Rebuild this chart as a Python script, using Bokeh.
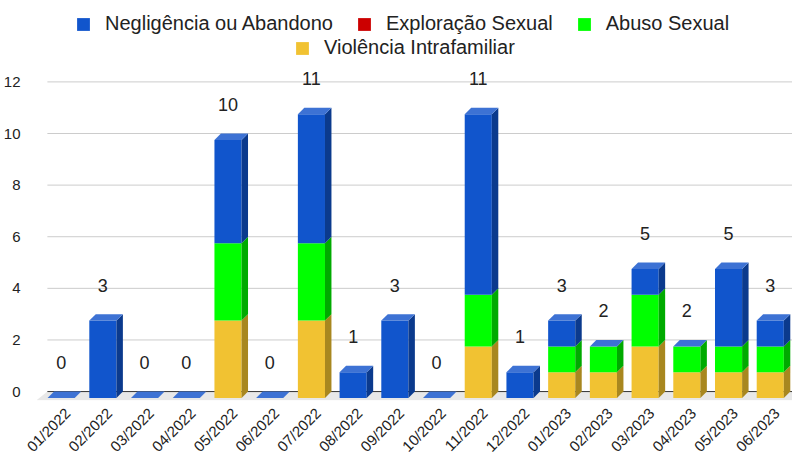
import numpy as np
from bokeh.plotting import figure
from bokeh.models import Range1d, FixedTicker, Legend, LegendItem, ColumnDataSource
from bokeh.core.properties import value
from bokeh.embed import file_html
from bokeh.resources import INLINE

months = ["01/2022", "02/2022", "03/2022", "04/2022", "05/2022", "06/2022",
          "07/2022", "08/2022", "09/2022", "10/2022", "11/2022", "12/2022",
          "01/2023", "02/2023", "03/2023", "04/2023", "05/2023", "06/2023"]
negligencia = [0, 3, 0, 0, 4, 0, 5, 1, 3, 0, 7, 1, 1, 0, 1, 0, 3, 1]
exploracao = [0, 0, 0, 0, 0, 0, 0, 0, 0, 0, 0, 0, 0, 0, 0, 0, 0, 0]
abuso = [0, 0, 0, 0, 3, 0, 3, 0, 0, 0, 2, 0, 1, 1, 2, 1, 1, 1]
intrafamiliar = [0, 0, 0, 0, 3, 0, 3, 0, 0, 0, 2, 0, 1, 1, 2, 1, 1, 1]
y_ticks = [0, 2, 4, 6, 8, 10, 12]

FONT = "Liberation Sans"
W = 0.65      # bar width (categories)
DX = 0.155    # 3D depth, x (categories)
DY = 0.25     # 3D depth, y (value units)

X0, X1 = -0.746, 17.378
Y0, Y1 = -0.346, 15.154

p = figure(width=792, height=463, x_range=Range1d(X0, X1), y_range=Range1d(Y0, Y1),
           output_backend="svg", toolbar_location=None, title=None,
           min_border_left=29, min_border_right=0, min_border_top=0, min_border_bottom=60)
p.outline_line_color = None
p.xgrid.visible = False
p.ygrid.visible = False

# floor
p.patch(x=[-0.485, X1 + 1, X1 + 1 - 0.26, -0.485 - 0.26], y=[0, 0, -0.34, -0.34],
        fill_color="#e8e8e8", line_color=None)
# grid lines
gy = y_ticks[1:]
p.segment(x0=[-0.485] * len(gy), y0=gy, x1=[X1 + 1] * len(gy), y1=gy,
          line_color="#cccccc", line_width=1)
p.segment(x0=[-0.485], y0=[0], x1=[X1 + 1], y1=[0], line_color="#333333", line_width=1)

xs = np.arange(len(months), dtype=float)
series = [
    ("Violência Intrafamiliar", intrafamiliar, "#f1c232", "#a8871f"),
    ("Abuso Sexual", abuso, "#00ff00", "#00aa00"),
    ("Exploração Sexual", exploracao, "#cc0000", "#8a0000"),
    ("Negligência ou Abandono", negligencia, "#1155cc", "#0b3a8d"),
]
renderers = {}
bottom = np.zeros(len(months))
for name, vals, front, side in series:
    v = np.array(vals, dtype=float)
    top = bottom + v
    src = ColumnDataSource(dict(x=xs - DX, bottom=bottom - DY, top=top - DY))
    r = p.vbar(x="x", width=W, bottom="bottom", top="top", source=src,
               fill_color=front, line_color=None)
    renderers[name] = r
    idx = np.nonzero(v > 0)[0]
    sx = [[i - DX + W / 2, i - DX + W / 2, i + W / 2, i + W / 2] for i in xs[idx]]
    sy = [[b - DY, t - DY, t, b] for b, t in zip(bottom[idx], top[idx])]
    p.patches(xs=sx, ys=sy, fill_color=side, line_color=None)
    bottom = top

totals = bottom
tx = [[i - DX - W / 2, i - DX + W / 2, i + W / 2, i - W / 2] for i in xs]
ty = [[t - DY, t - DY, t, t] for t in totals]
p.patches(xs=tx, ys=ty, fill_color="#3d72d4", line_color=None)

lbl_src = ColumnDataSource(dict(x=xs - DX, y=totals, t=[str(int(t)) for t in totals]))
p.text(x="x", y="y", text="t", source=lbl_src, y_offset=-29, text_align="center",
       text_baseline="middle", text_font=value(FONT), text_font_size="18px",
       text_color="#222222")

# axes
xa = p.xaxis[0]
xa.ticker = FixedTicker(ticks=list(range(len(months))))
xa.major_label_overrides = {i: m for i, m in enumerate(months)}
xa.major_label_orientation = np.pi / 4
xa.axis_line_color = None
xa.major_tick_line_color = None
xa.minor_tick_line_color = None
xa.major_label_text_font = FONT
xa.major_label_text_font_size = "15px"
xa.major_label_text_color = "#222222"
xa.major_label_standoff = 4

ya = p.yaxis[0]
ya.ticker = FixedTicker(ticks=y_ticks)
ya.axis_line_color = None
ya.major_tick_line_color = None
ya.minor_tick_line_color = None
ya.major_label_text_font = FONT
ya.major_label_text_font_size = "15px"
ya.major_label_text_color = "#222222"
ya.major_label_standoff = 10

leg_style = dict(orientation="horizontal", label_text_font=FONT, label_text_font_size="20px",
                 label_text_color="#222222", glyph_width=16, glyph_height=16,
                 label_standoff=14, spacing=23, padding=0, margin=0,
                 border_line_color=None, background_fill_alpha=0, label_height=20)
leg1 = Legend(items=[LegendItem(label="Negligência ou Abandono", renderers=[renderers["Negligência ou Abandono"]]),
                     LegendItem(label="Exploração Sexual", renderers=[renderers["Exploração Sexual"]]),
                     LegendItem(label="Abuso Sexual", renderers=[renderers["Abuso Sexual"]])],
              location=(39, 365), **leg_style)
leg2 = Legend(items=[LegendItem(label="Violência Intrafamiliar", renderers=[renderers["Violência Intrafamiliar"]])],
              location=(258, 341), **leg_style)
p.add_layout(leg1)
p.add_layout(leg2)

open("out.html", "w").write(file_html(p, INLINE))
